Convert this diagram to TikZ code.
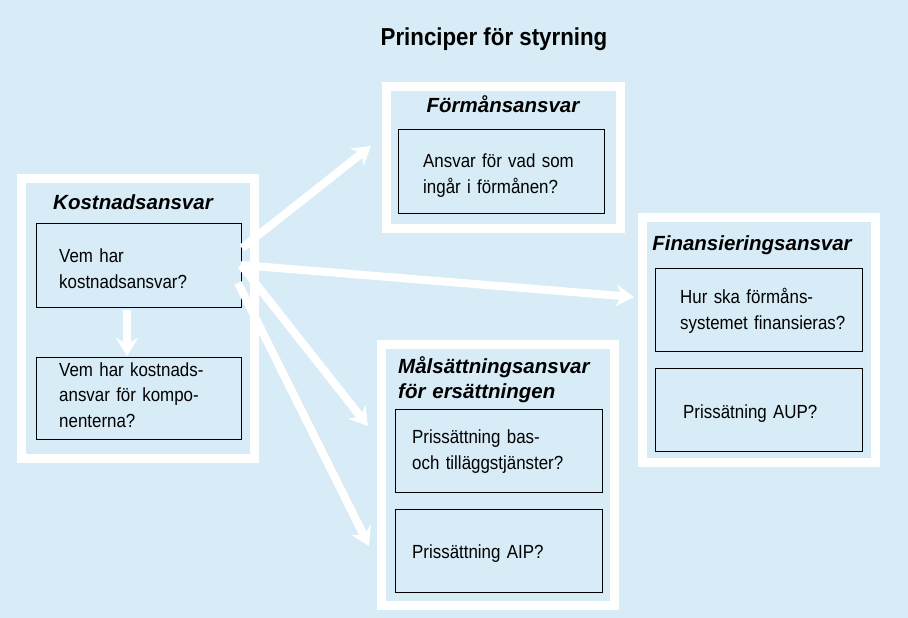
\documentclass[tikz,border=0pt]{standalone}
\usepackage{fontspec}
\setmainfont{Liberation Sans}
\newfontfamily\condfont[FakeStretch=0.89]{Liberation Sans}
\newfontfamily\titlefont[FakeStretch=0.91]{Liberation Sans}
\usetikzlibrary{arrows.meta}
\definecolor{panelblue}{RGB}{215,236,247}
\begin{document}
\begin{tikzpicture}[x=1pt,y=-1pt,
  frame/.style={draw=white, line width=9pt, rectangle, anchor=north west, inner sep=0pt, outer sep=0pt},
  qbox/.style={draw=black, line width=1pt, rectangle, anchor=north west, inner sep=0pt, outer sep=0pt},
  qtext/.style={font=\condfont\fontsize{19}{26}\selectfont, anchor=base west, align=left, inner sep=0pt, text width=200pt},
  head/.style={font=\bfseries\itshape\fontsize{20.5}{25.5}\selectfont, inner sep=0pt},
  flow/.style={draw=white, line width=8pt, -{Stealth[length=18pt,width=22pt,inset=6pt]}}]

% background panel
\fill[panelblue] (0,0) rectangle (908,618);
\useasboundingbox (0,0) rectangle (908,618);

% title
\node[font=\titlefont\bfseries\fontsize{24.5}{28}\selectfont, anchor=base, inner sep=0pt] (title) at (494,46) {Principer för styrning};

% white frames of the four areas of responsibility
\node[frame, minimum width=233pt, minimum height=280pt] (kframe) at (21.5,178.5) {};
\node[frame, minimum width=234pt, minimum height=142pt] (fframe) at (386.5,86.5) {};
\node[frame, minimum width=233pt, minimum height=245pt] (finframe) at (642,217.5) {};
\node[frame, minimum width=233pt, minimum height=261pt] (mframe) at (381.5,344.5) {};

% headings
\node[head, anchor=base] (khead) at (133,209) {Kostnadsansvar};
\node[head, anchor=base] (fhead) at (503,113) {Förmånsansvar};
\node[head, anchor=base] (finhead) at (752,250) {Finansieringsansvar};
\node[head, anchor=base west, align=left, text width=215pt] (mhead) at (398,373) {Målsättningsansvar\\för ersättningen};

% question boxes
\node[qbox, minimum width=205pt, minimum height=84pt] (k1) at (36,223) {};
\node[qbox, minimum width=205pt, minimum height=82pt] (k2) at (36,357) {};
\node[qbox, minimum width=206pt, minimum height=84pt] (f1) at (398,129) {};
\node[qbox, minimum width=207pt, minimum height=83pt] (fin1) at (655,268) {};
\node[qbox, minimum width=207pt, minimum height=83pt] (fin2) at (655,368) {};
\node[qbox, minimum width=207pt, minimum height=83pt] (m1) at (395,409) {};
\node[qbox, minimum width=207pt, minimum height=83pt] (m2) at (395,509) {};

% question texts
\node[qtext] (k1t) at (59,262) {Vem har\\kostnadsansvar?};
\node[qtext, font=\condfont\fontsize{19}{25.5}\selectfont] (k2t) at (59,376) {Vem har kostnads-\\ansvar för kompo-\\nenterna?};
\node[qtext] (f1t) at (423,167) {Ansvar för vad som\\ingår i förmånen?};
\node[qtext] (fin1t) at (680,303) {Hur ska förmåns-\\systemet finansieras?};
\node[qtext] (fin2t) at (683,418) {Prissätning AUP?};
\node[qtext] (m1t) at (412,443) {Prissättning bas-\\och tilläggstjänster?};
\node[qtext] (m2t) at (412,558) {Prissättning AIP?};

% connector end points
\coordinate (a1s) at (242,248);
\coordinate (a1e) at (371,146);
\coordinate (a2s) at (241,265);
\coordinate (a2e) at (634,297);
\coordinate (a3s) at (241,265);
\coordinate (a3e) at (368,426);
\coordinate (a4s) at (238,283);
\coordinate (a4e) at (369,546);
\coordinate (ds) at (127,310);
\coordinate (de) at (127,356);

% white arrows
\draw[flow] (a1s) -- (a1e);
\draw[flow] (a2s) -- (a2e);
\draw[flow] (a3s) -- (a3e);
\draw[flow] (a4s) -- (a4e);
\draw[flow] (ds) -- (de);
\end{tikzpicture}
\end{document}
